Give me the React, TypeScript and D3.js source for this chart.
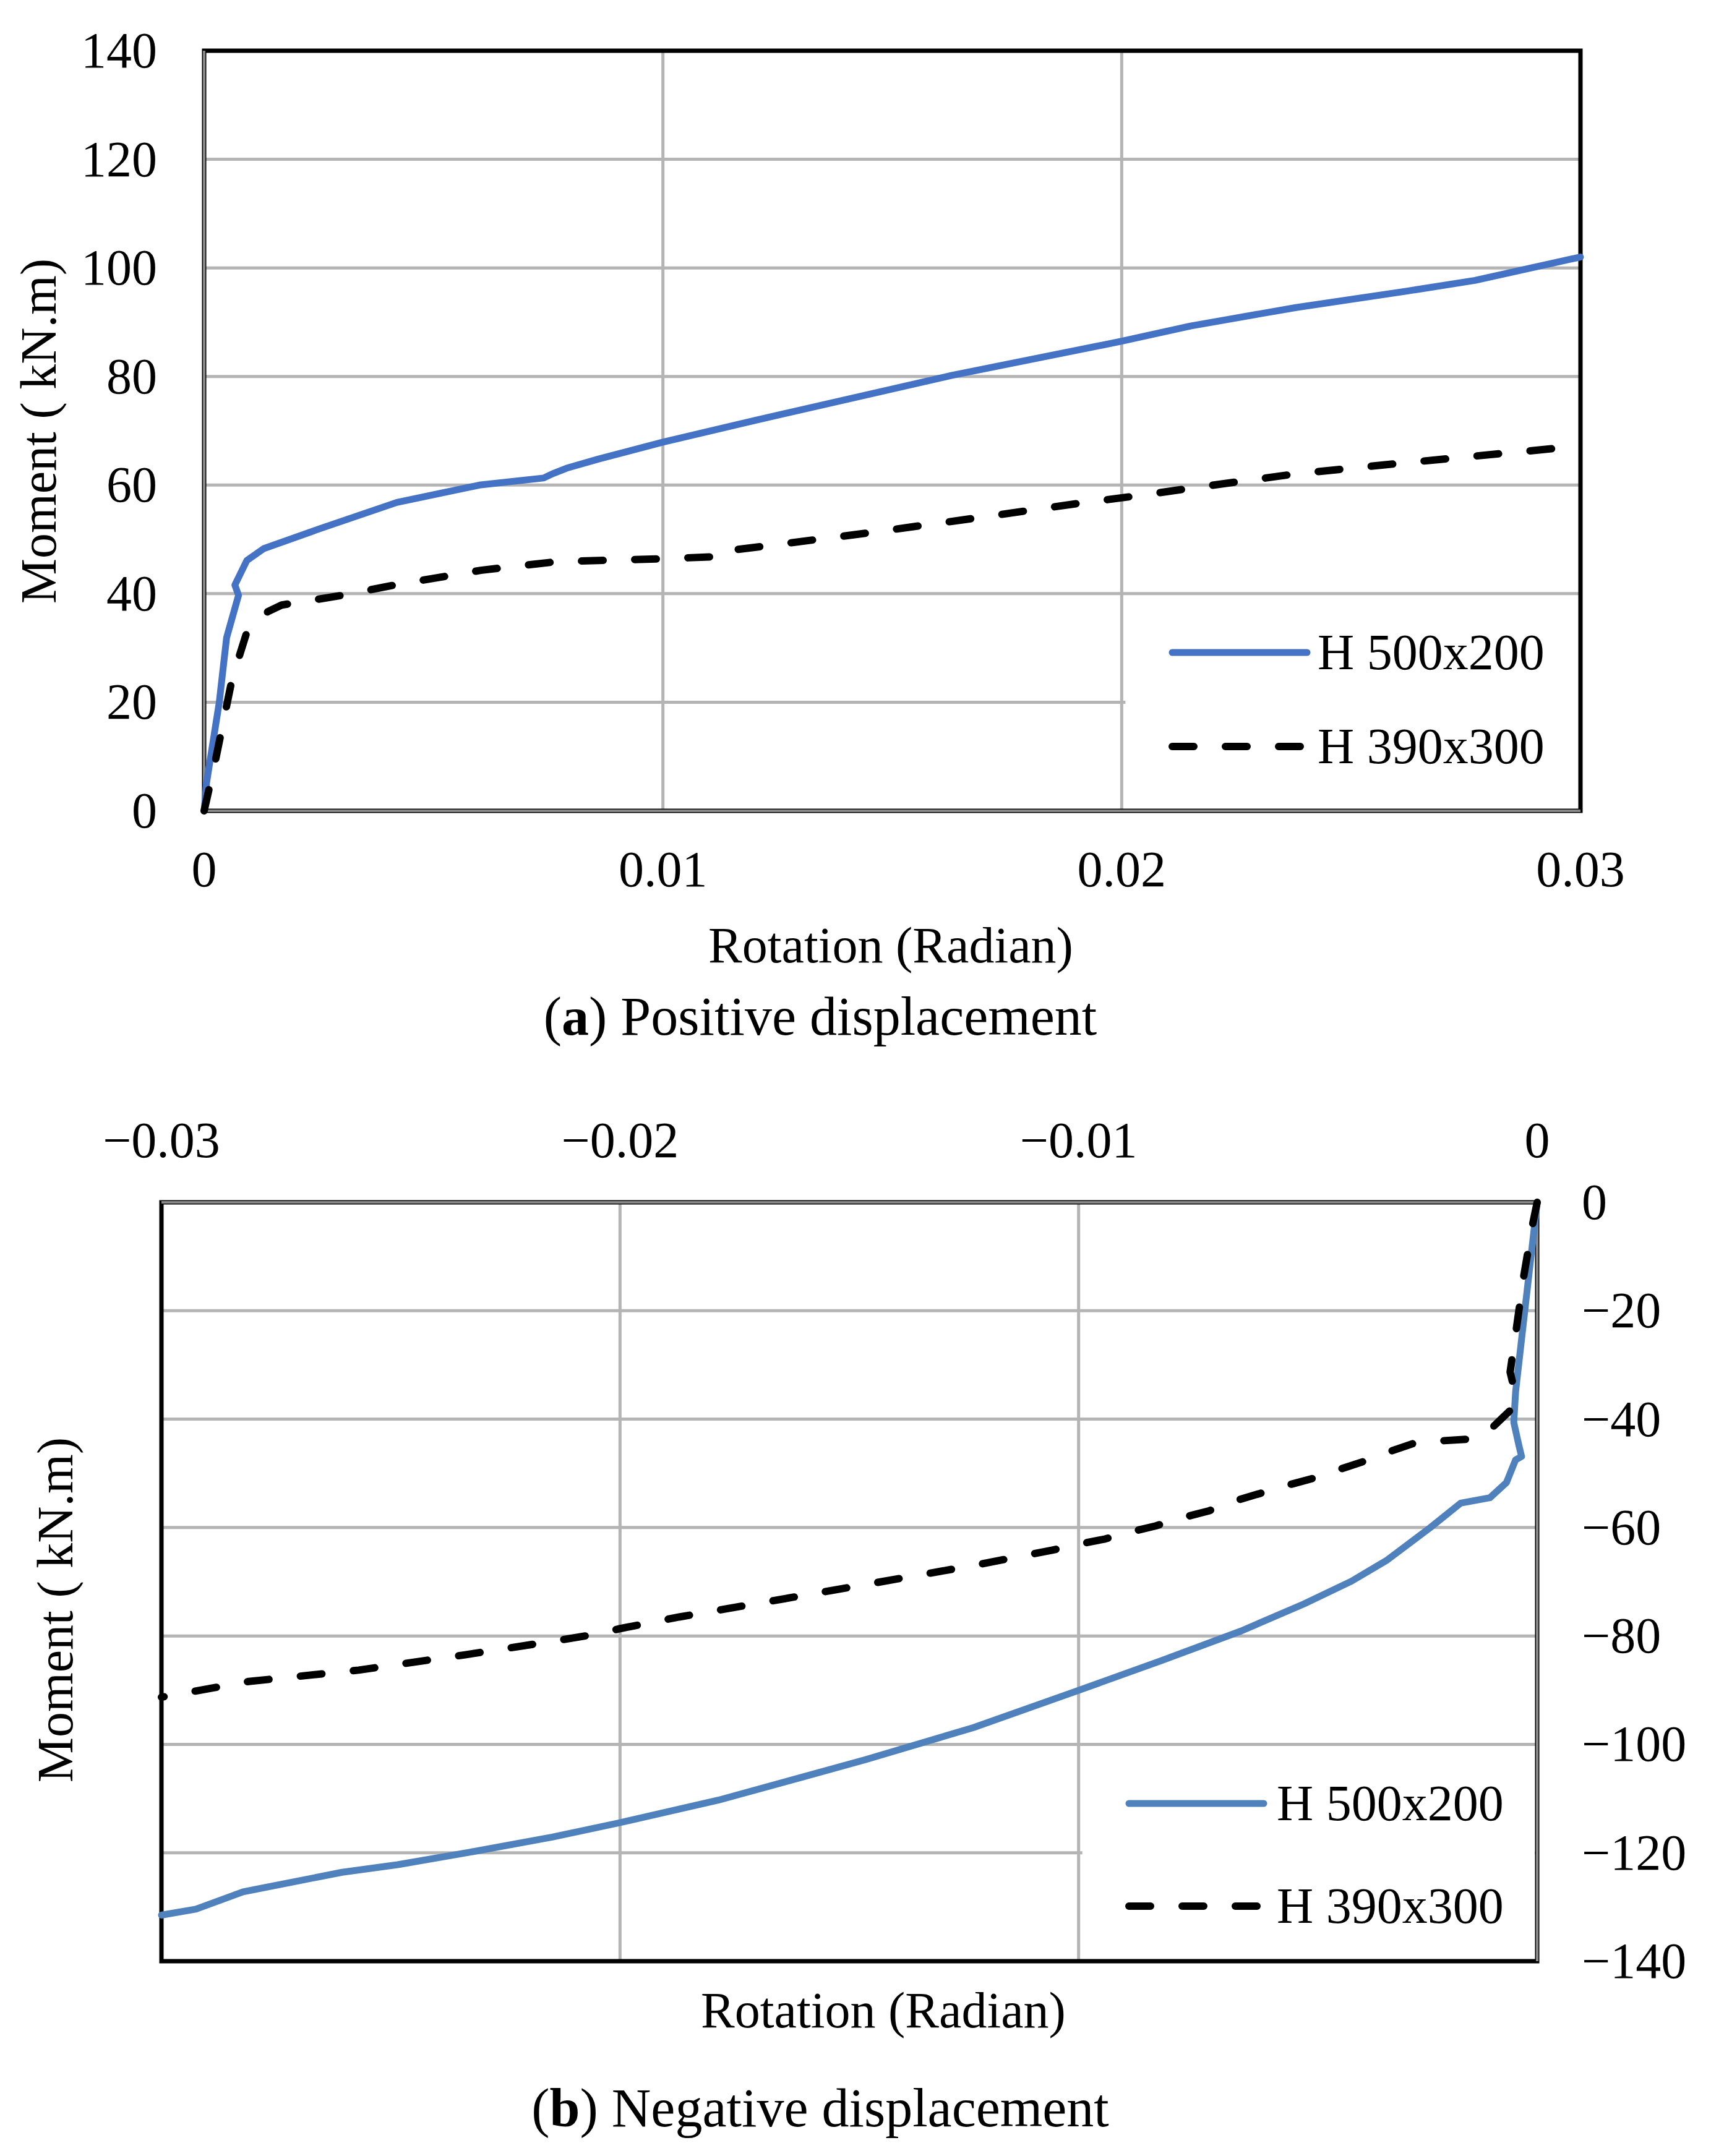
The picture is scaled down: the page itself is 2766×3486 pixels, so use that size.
import { useEffect, useRef } from 'react'
import * as d3 from 'd3'

// ---- data (rotation in radian, moment in kN.m) ----
const seriesNames = ['H 500x200', 'H 390x300']

const posH500: [number, number][] = [
  [0, 0], [0.00005, 5], [0.00033, 20], [0.00049, 31.9], [0.00075, 39.7], [0.00067, 41.6],
  [0.00093, 46.1], [0.0013, 48.3], [0.0025, 51.9], [0.0042, 56.8], [0.006, 60], [0.0074, 61.3],
  [0.0076, 62.1], [0.0079, 63.1], [0.0086, 64.8], [0.01, 67.9], [0.012, 71.9], [0.0163, 80.2],
  [0.02, 86.5], [0.0215, 89.3], [0.0238, 92.7], [0.0262, 95.7], [0.0277, 97.7], [0.03, 102],
]

const posH390: [number, number][] = [
  [0, 0], [0.00024, 9], [0.00061, 24.3], [0.00093, 32.9], [0.00139, 36.7], [0.00169, 37.9],
  [0.00302, 39.7], [0.00422, 41.7], [0.00603, 44.3], [0.00769, 45.9], [0.00993, 46.4],
  [0.01113, 46.8], [0.0112, 47.7], [0.01217, 48.7], [0.01449, 51.2], [0.0168, 53.9], [0.01912, 56.7],
  [0.02032, 58], [0.02183, 59.8], [0.02383, 62.1], [0.02618, 64.1], [0.03, 67.2],
]

const negH500: [number, number][] = [
  [0, 0], [-0.00027, -20], [-0.00047, -34.9], [-0.00051, -40.6], [-0.0004, -44.8], [-0.00034, -46.9],
  [-0.00047, -47.5], [-0.00067, -51.7], [-0.00103, -54.5], [-0.00167, -55.5], [-0.00233, -60],
  [-0.00329, -66.1], [-0.00405, -69.9], [-0.00509, -74.1], [-0.00646, -79.1], [-0.00818, -84.5],
  [-0.01002, -90.1], [-0.01229, -96.9], [-0.01464, -102.8], [-0.01605, -106.1], [-0.01786, -110.3],
  [-0.02003, -114.5], [-0.02148, -117.1], [-0.02328, -119.9], [-0.02485, -122.2], [-0.02606, -123.6],
  [-0.02822, -127.2], [-0.02925, -130.4], [-0.03, -131.5],
]

const negH390: [number, number][] = [
  [0, 0], [-0.00011, -4.5], [-0.0003, -14], [-0.00047, -24.3], [-0.00059, -31.3], [-0.0005, -34.5],
  [-0.00054, -38], [-0.00096, -41.4], [-0.00151, -43.7], [-0.00209, -44], [-0.00267, -44.4],
  [-0.00326, -46.1], [-0.00378, -47.8], [-0.00436, -49.4], [-0.00488, -50.9], [-0.00549, -52.3],
  [-0.00604, -53.7], [-0.0066, -55.1], [-0.00715, -56.9], [-0.0077, -58.1], [-0.00832, -59.7],
  [-0.00886, -60.8], [-0.00942, -62.1], [-0.01001, -63.1], [-0.01059, -64.2], [-0.01229, -67],
  [-0.01464, -70.5], [-0.01666, -73.5], [-0.01871, -76.5], [-0.02003, -78.7], [-0.0204, -79.5],
  [-0.02148, -81], [-0.0234, -83.5], [-0.0257, -86.3], [-0.0281, -88.4], [-0.03, -91.3],
]

const xTicksPos = [0, 0.01, 0.02, 0.03]
const xLabelsPos = ['0', '0.01', '0.02', '0.03']
const yTicksPos = [0, 20, 40, 60, 80, 100, 120, 140]
const xTicksNeg = [-0.03, -0.02, -0.01, 0]
const xLabelsNeg = ['\u22120.03', '\u22120.02', '\u22120.01', '0']
const yTicksNeg = [0, -20, -40, -60, -80, -100, -120, -140]

const FONT = '"Liberation Serif", "Times New Roman", serif'
const GRID = '#b4b4b4'
const AXIS = '#898989'
const DASH = '35,51'

export default function App() {
  const svgRef = useRef<SVGSVGElement>(null)

  useEffect(() => {
    if (!svgRef.current) return
    const svg = d3.select(svgRef.current)
    svg.selectAll('*').remove()
    svg.append('rect').attr('width', 2766).attr('height', 3486).attr('fill', '#fff')

    const line = d3.line<[number, number]>()

    // ---------------- panel (a) ----------------
    {
      const L = 330, R = 2555, T = 82, B = 1311
      const x = d3.scaleLinear().domain([0, 0.03]).range([L, R])
      const y = d3.scaleLinear().domain([0, 140]).range([B, T])
      const g = svg.append('g')

      g.append('g').selectAll('line.h').data(yTicksPos).join('line')
        .attr('x1', L).attr('x2', R).attr('y1', (d) => y(d)).attr('y2', (d) => y(d))
        .attr('stroke', GRID).attr('stroke-width', 5)
      g.append('g').selectAll('line.v').data(xTicksPos).join('line')
        .attr('x1', (d) => x(d)).attr('x2', (d) => x(d)).attr('y1', T).attr('y2', B)
        .attr('stroke', GRID).attr('stroke-width', 5)

      // legend background (covers grid)
      g.append('rect').attr('x', x(0.02) + 6).attr('y', 995).attr('width', R - x(0.02) - 6)
        .attr('height', B - 995 - 4).attr('fill', '#fff')

      // frame
      g.append('rect').attr('x', L).attr('y', T).attr('width', R - L).attr('height', B - T)
        .attr('fill', 'none').attr('stroke', '#000').attr('stroke-width', 7)
      g.append('line').attr('x1', L).attr('x2', L).attr('y1', T).attr('y2', B + 3)
        .attr('stroke', AXIS).attr('stroke-width', 4)
      g.append('line').attr('x1', L - 2).attr('x2', R).attr('y1', B).attr('y2', B)
        .attr('stroke', AXIS).attr('stroke-width', 4)

      g.append('path').attr('d', line(posH500.map(([a, b]) => [x(a), y(b)]))!)
        .attr('fill', 'none').attr('stroke', '#4472c4').attr('stroke-width', 11)
        .attr('stroke-linejoin', 'round').attr('stroke-linecap', 'round')
      g.append('path').attr('d', line(posH390.map(([a, b]) => [x(a), y(b)]))!)
        .attr('fill', 'none').attr('stroke', '#000').attr('stroke-width', 12)
        .attr('stroke-dasharray', DASH).attr('stroke-linecap', 'round').attr('stroke-linejoin', 'round')

      // tick labels
      g.append('g').selectAll('text').data(yTicksPos).join('text')
        .attr('x', 254).attr('y', (d) => y(d) + 27).attr('text-anchor', 'end')
        .attr('font-family', FONT).attr('font-size', 82).text((d) => String(d))
      g.append('g').selectAll('text').data(xTicksPos).join('text')
        .attr('x', (d) => x(d)).attr('y', 1433).attr('text-anchor', 'middle')
        .attr('font-family', FONT).attr('font-size', 82).text((_, i) => xLabelsPos[i])

      g.append('text').attr('transform', 'translate(90,697) rotate(-90)').attr('text-anchor', 'middle')
        .attr('font-family', FONT).attr('font-size', 82).text('Moment ( kN.m)')
      g.append('text').attr('x', 1440).attr('y', 1556).attr('text-anchor', 'middle')
        .attr('font-family', FONT).attr('font-size', 82).text('Rotation (Radian)')

      // legend
      g.append('line').attr('x1', 1895).attr('x2', 2113).attr('y1', 1055).attr('y2', 1055)
        .attr('stroke', '#4472c4').attr('stroke-width', 11).attr('stroke-linecap', 'round')
      g.append('line').attr('x1', 1895).attr('x2', 2113).attr('y1', 1207).attr('y2', 1207)
        .attr('stroke', '#000').attr('stroke-width', 12).attr('stroke-dasharray', DASH)
        .attr('stroke-linecap', 'round')
      g.append('text').attr('x', 2130).attr('y', 1082).attr('font-family', FONT).attr('font-size', 82)
        .text(seriesNames[0])
      g.append('text').attr('x', 2130).attr('y', 1234).attr('font-family', FONT).attr('font-size', 82)
        .text(seriesNames[1])

      const cap = g.append('text').attr('x', 1326).attr('y', 1673).attr('text-anchor', 'middle')
        .attr('font-family', FONT).attr('font-size', 88)
      cap.append('tspan').text('(')
      cap.append('tspan').attr('font-weight', 'bold').text('a')
      cap.append('tspan').text(') Positive displacement')
    }

    // ---------------- panel (b) ----------------
    {
      const L = 261, R = 2485, T = 1944, B = 3171
      const x = d3.scaleLinear().domain([-0.03, 0]).range([L, R])
      const y = d3.scaleLinear().domain([0, -140]).range([T, B])
      const g = svg.append('g')

      g.append('g').selectAll('line.h').data(yTicksNeg).join('line')
        .attr('x1', L).attr('x2', R).attr('y1', (d) => y(d)).attr('y2', (d) => y(d))
        .attr('stroke', GRID).attr('stroke-width', 5)
      g.append('g').selectAll('line.v').data(xTicksNeg).join('line')
        .attr('x1', (d) => x(d)).attr('x2', (d) => x(d)).attr('y1', T).attr('y2', B)
        .attr('stroke', GRID).attr('stroke-width', 5)

      g.append('rect').attr('x', x(-0.01) + 6).attr('y', 2850).attr('width', R - x(-0.01) - 10)
        .attr('height', B - 2850 - 4).attr('fill', '#fff')

      g.append('rect').attr('x', L).attr('y', T).attr('width', R - L).attr('height', B - T)
        .attr('fill', 'none').attr('stroke', '#000').attr('stroke-width', 7)
      g.append('line').attr('x1', R).attr('x2', R).attr('y1', T).attr('y2', B)
        .attr('stroke', AXIS).attr('stroke-width', 4)
      g.append('line').attr('x1', L).attr('x2', R + 2).attr('y1', T).attr('y2', T)
        .attr('stroke', AXIS).attr('stroke-width', 4)

      g.append('path').attr('d', line(negH500.map(([a, b]) => [x(a), y(b)]))!)
        .attr('fill', 'none').attr('stroke', '#4f81bd').attr('stroke-width', 11)
        .attr('stroke-linejoin', 'round').attr('stroke-linecap', 'round')
      g.append('path').attr('d', line(negH390.map(([a, b]) => [x(a), y(b)]))!)
        .attr('fill', 'none').attr('stroke', '#000').attr('stroke-width', 12)
        .attr('stroke-dasharray', DASH).attr('stroke-linecap', 'round').attr('stroke-linejoin', 'round')

      g.append('g').selectAll('text').data(yTicksNeg).join('text')
        .attr('x', 2557).attr('y', (d) => y(d) + 27).attr('text-anchor', 'start')
        .attr('font-family', FONT).attr('font-size', 82)
        .text((d) => (d === 0 ? '0' : '\u2212' + Math.abs(d)))
      g.append('g').selectAll('text').data(xTicksNeg).join('text')
        .attr('x', (d) => x(d)).attr('y', 1871).attr('text-anchor', 'middle')
        .attr('font-family', FONT).attr('font-size', 82).text((_, i) => xLabelsNeg[i])

      g.append('text').attr('transform', 'translate(117,2603) rotate(-90)').attr('text-anchor', 'middle')
        .attr('font-family', FONT).attr('font-size', 82).text('Moment ( kN.m)')
      g.append('text').attr('x', 1428).attr('y', 3278).attr('text-anchor', 'middle')
        .attr('font-family', FONT).attr('font-size', 82).text('Rotation (Radian)')

      g.append('line').attr('x1', 1825).attr('x2', 2043).attr('y1', 2916).attr('y2', 2916)
        .attr('stroke', '#4f81bd').attr('stroke-width', 11).attr('stroke-linecap', 'round')
      g.append('line').attr('x1', 1825).attr('x2', 2043).attr('y1', 3082).attr('y2', 3082)
        .attr('stroke', '#000').attr('stroke-width', 12).attr('stroke-dasharray', DASH)
        .attr('stroke-linecap', 'round')
      g.append('text').attr('x', 2064).attr('y', 2943).attr('font-family', FONT).attr('font-size', 82)
        .text(seriesNames[0])
      g.append('text').attr('x', 2064).attr('y', 3109).attr('font-family', FONT).attr('font-size', 82)
        .text(seriesNames[1])

      const cap = g.append('text').attr('x', 1326).attr('y', 3438).attr('text-anchor', 'middle')
        .attr('font-family', FONT).attr('font-size', 88)
      cap.append('tspan').text('(')
      cap.append('tspan').attr('font-weight', 'bold').text('b')
      cap.append('tspan').text(') Negative displacement')
    }
  }, [])

  return (
    <svg
      ref={svgRef}
      width={2766}
      height={3486}
      style={{ position: 'absolute', left: 0, top: 0, display: 'block' }}
    />
  )
}
